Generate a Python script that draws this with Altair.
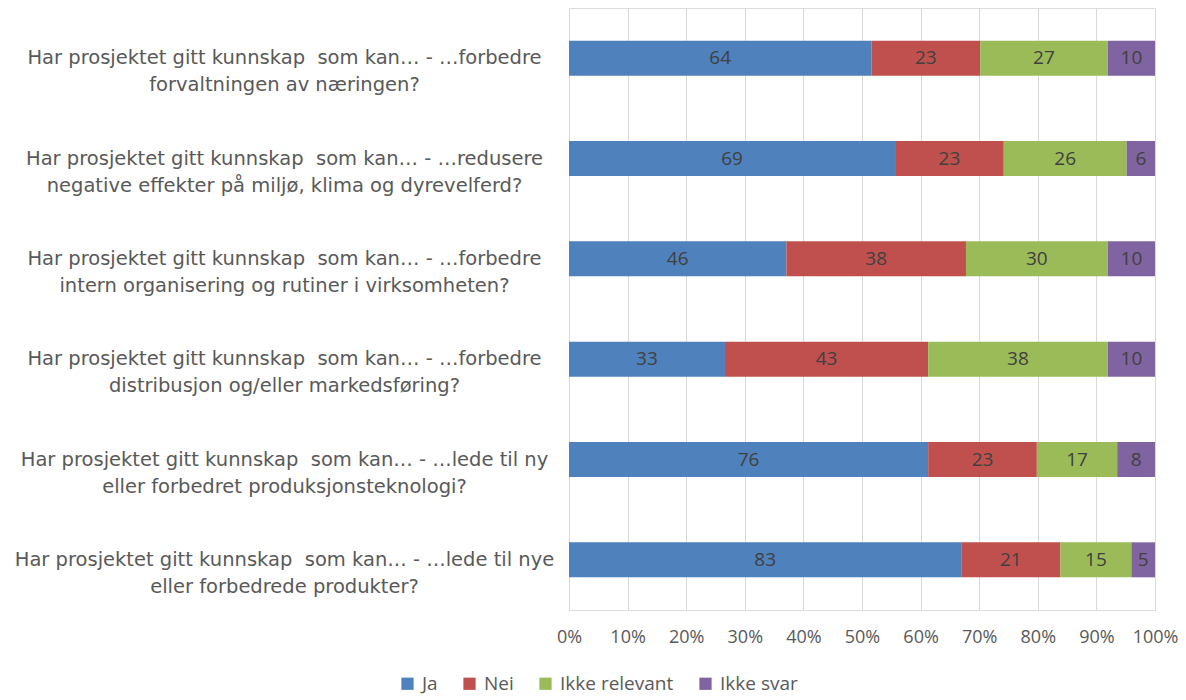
import altair as alt
import pandas as pd

NB = "\u00a0"
questions = [
    f"Har prosjektet gitt kunnskap {NB}som kan… - …forbedre|forvaltningen av næringen?",
    f"Har prosjektet gitt kunnskap {NB}som kan… - …redusere|negative effekter på miljø, klima og dyrevelferd?",
    f"Har prosjektet gitt kunnskap {NB}som kan… - …forbedre|intern organisering og rutiner i virksomheten?",
    f"Har prosjektet gitt kunnskap {NB}som kan… - …forbedre|distribusjon og/eller markedsføring?",
    f"Har prosjektet gitt kunnskap {NB}som kan… - …lede til ny|eller forbedret produksjonsteknologi?",
    f"Har prosjektet gitt kunnskap {NB}som kan… - …lede til nye|eller forbedrede produkter?",
]
series = ["Ja", "Nei", "Ikke relevant", "Ikke svar"]
ja = [64, 69, 46, 33, 76, 83]
nei = [23, 23, 38, 43, 23, 21]
ikke_relevant = [27, 26, 30, 38, 17, 15]
ikke_svar = [10, 6, 10, 10, 8, 5]
colors = ["#4F81BD", "#C0504D", "#9BBB59", "#8064A2"]
ticks = [0, 0.1, 0.2, 0.3, 0.4, 0.5, 0.6, 0.7, 0.8, 0.9, 1.0]

rows = []
for i, q in enumerate(questions):
    for j, (s, vals) in enumerate(zip(series, [ja, nei, ikke_relevant, ikke_svar])):
        rows.append({"q": q, "series": s, "order": j, "value": vals[i]})
df = pd.DataFrame(rows)

FONT = "Open Sans"
YFONT = "DejaVu Sans"

base = alt.Chart(df).transform_joinaggregate(
    total="sum(value)", groupby=["q"]
).transform_calculate(
    pct="datum.value / datum.total"
).transform_stack(
    stack="pct", as_=["x0", "x1"], groupby=["q"], sort=[alt.SortField("order")]
).transform_calculate(
    xm="(datum.x0 + datum.x1) / 2"
)

yenc = alt.Y(
    "q:N",
    sort=questions,
    title=None,
    scale=alt.Scale(paddingInner=0.65, paddingOuter=0.325),
    axis=alt.Axis(
        labelExpr="split(datum.label, '|')",
        labelAlign="center",
        labelPadding=285,
        labelLimit=0,
        labelFont=YFONT,
        labelFontSize=19.5,
        labelColor="#595959",
        labelLineHeight=27,
        ticks=False,
        domain=False,
    ),
)

bars = base.mark_bar(size=35).encode(
    x=alt.X(
        "x0:Q",
        scale=alt.Scale(domain=[0, 1], nice=False),
        title=None,
        axis=alt.Axis(
            format="%",
            values=ticks,
            grid=True,
            gridColor="#D9D9D9",
            gridWidth=1,
            ticks=False,
            domain=False,
            labelFont=FONT,
            labelFontSize=18,
            labelColor="#595959",
            labelPadding=18,
            labelFlush=False,
        ),
    ),
    x2="x1:Q",
    y=yenc,
    color=alt.Color(
        "series:N",
        scale=alt.Scale(domain=series, range=colors),
        sort=series,
        title=None,
        legend=alt.Legend(
            orient="none",
            legendX=-171,
            legendY=666,
            direction="horizontal",
            symbolType="square",
            symbolSize=150,
            symbolStrokeWidth=0,
            labelFont=FONT,
            labelFontSize=19,
            labelColor="#595959",
            labelOffset=5,
            columnPadding=22,
        ),
    ),
    order=alt.Order("order:Q"),
)

texts = base.mark_text(font=FONT, fontSize=19, color="#404040", baseline="middle").encode(
    x="xm:Q",
    y=alt.Y("q:N", sort=questions),
    text="value:Q",
)

chart = alt.layer(bars, texts).properties(
    width=586,
    height=602,
    padding={"left": 561, "top": 0, "right": 23, "bottom": 86},
    autosize=alt.AutoSizeParams(type="none"),
).configure_view(stroke=None).configure(background="white")

chart.save("out.html", embed_options={"renderer": "svg", "actions": False})
